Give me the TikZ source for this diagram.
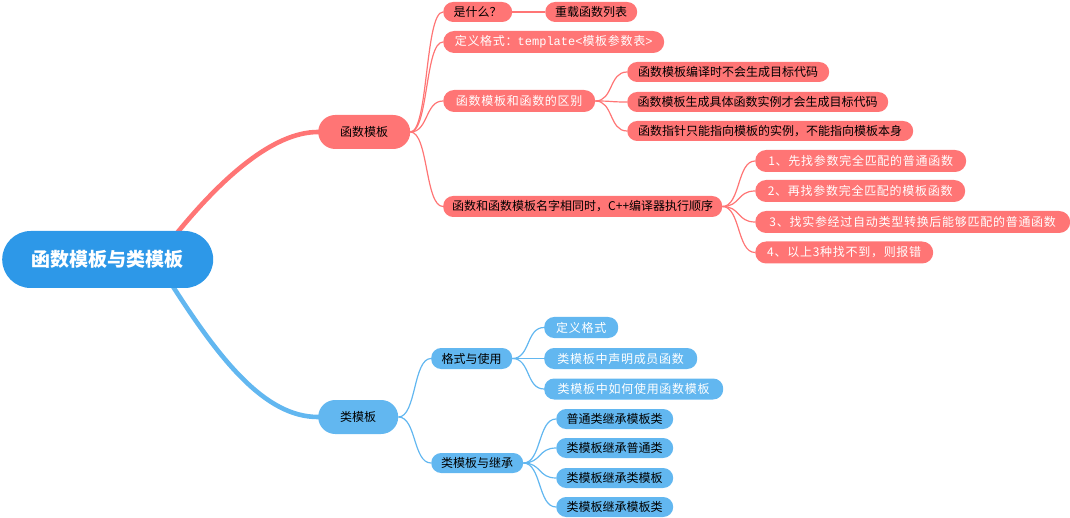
\documentclass[tikz,border=0pt]{standalone}
\usepackage{fontspec}
\setmainfont{Noto Sans CJK SC}
\newfontfamily\cjkw[LetterSpace=6]{Noto Sans CJK SC}
\newfontfamily\monof{Liberation Mono}
\usetikzlibrary{backgrounds}
\definecolor{rd}{HTML}{FF7575}
\definecolor{bl}{HTML}{62B7F0}
\definecolor{rootc}{HTML}{2D98E8}
\begin{document}
\begin{tikzpicture}[x=1pt,y=-1pt,
  box/.style={anchor=west, inner sep=0pt, minimum height=20pt, rounded corners=10pt, text=black, font=\fontsize{12pt}{14pt}\selectfont},
  rbox/.style={box, fill=rd},
  bbox/.style={box, fill=bl},
  wt/.style={text=white, font=\fontsize{12pt}{14pt}\cjkw},
  big/.style={minimum height=34pt, rounded corners=17pt},
  rl/.style={draw=rd, line width=1.2pt},
  bll/.style={draw=bl, line width=1.2pt},
  trunk/.style={line width=4.6pt, line cap=round},
]
\useasboundingbox (0,0) rectangle (1070,518);

% root
\node[anchor=west, fill=rootc, minimum width=211pt, minimum height=57pt, rounded corners=28.5pt, inner sep=0pt, text=white, font=\fontsize{19pt}{22pt}\selectfont\bfseries] (root) at (2,259.5) {函数模板与类模板};

% level 1
\node[rbox, big, minimum width=92pt] (fm) at (318,132) {函数模板};
\node[bbox, big, minimum width=80pt] (lm) at (318,417) {类模板};

% red branch
\node[rbox, minimum width=69pt] (q1) at (443,12) {是什么？};
\node[rbox, minimum width=92pt] (q1a) at (545,12) {重载函数列表};
\node[rbox, wt, minimum width=221pt, minimum height=22pt, rounded corners=11pt] (q2) at (443,42) {定义格式：{\monof template<}模板参数表{\monof >}};
\node[rbox, wt, minimum width=152pt, minimum height=22pt, rounded corners=11pt] (q3) at (443,101) {函数模板和函数的区别};
\node[rbox, minimum width=202pt] (c1) at (627,72) {函数模板编译时不会生成目标代码};
\node[rbox, minimum width=261pt] (c2) at (627,102) {函数模板生成具体函数实例才会生成目标代码};
\node[rbox, minimum width=286pt] (c3) at (627,131) {函数指针只能指向模板的实例，不能指向模板本身};
\node[rbox, minimum width=279pt, minimum height=21pt] (q4) at (443,206.5) {函数和函数模板名字相同时，C++编译器执行顺序};
\node[rbox, wt, minimum width=211pt, minimum height=22pt, rounded corners=11pt] (o1) at (755,161) {1、先找参数完全匹配的普通函数};
\node[rbox, wt, minimum width=210pt, minimum height=22pt, rounded corners=11pt] (o2) at (755,191) {2、再找参数完全匹配的模板函数};
\node[rbox, wt, minimum width=315pt, minimum height=22pt, rounded corners=11pt] (o3) at (755,222) {3、找实参经过自动类型转换后能够匹配的普通函数};
\node[rbox, wt, minimum width=178pt, minimum height=22pt, rounded corners=11pt] (o4) at (755,252.5) {4、以上3种找不到，则报错};

% blue branch
\node[bbox, minimum width=81pt, minimum height=21pt] (b1) at (431,358.5) {格式与使用};
\node[bbox, wt, minimum width=74pt, minimum height=21pt] (b1a) at (544,327.5) {定义格式};
\node[bbox, wt, minimum width=153pt, minimum height=21pt] (b1b) at (544,358.5) {类模板中声明成员函数};
\node[bbox, wt, minimum width=179pt, minimum height=21pt] (b1c) at (544,389) {类模板中如何使用函数模板};
\node[bbox, minimum width=92pt] (b2) at (431,463) {类模板与继承};
\node[bbox, minimum width=117pt] (b2a) at (556,419) {普通类继承模板类};
\node[bbox, minimum width=117pt] (b2b) at (556,448) {类模板继承普通类};
\node[bbox, minimum width=117pt] (b2c) at (556,478) {类模板继承类模板};
\node[bbox, minimum width=117pt] (b2d) at (556,507) {类模板继承模板类};

\coordinate (rt) at (177,233);
\coordinate (bt) at (172,285);

\begin{scope}[on background layer]
\draw[trunk, draw=rd] (rt) .. controls +(45,-55) and +(-45,0) .. (fm.west);
\draw[trunk, draw=bl] (bt) .. controls +(48,75) and +(-53,0) .. (lm.west);
\foreach \c in {q1,q2,q3,q4} \draw[rl] (fm.east) .. controls +(18,0) and +(-18,0) .. (\c.west);
\draw[rl] (q1.east) -- (q1a.west);
\foreach \c in {c1,c2,c3} \draw[rl] (q3.east) .. controls +(18,0) and +(-18,0) .. (\c.west);
\foreach \c in {o1,o2,o3,o4} \draw[rl] (q4.east) .. controls +(18,0) and +(-18,0) .. (\c.west);
\foreach \c in {b1,b2} \draw[bll] (lm.east) .. controls +(18,0) and +(-18,0) .. (\c.west);
\foreach \c in {b1a,b1b,b1c} \draw[bll] (b1.east) .. controls +(18,0) and +(-18,0) .. (\c.west);
\foreach \c in {b2a,b2b,b2c,b2d} \draw[bll] (b2.east) .. controls +(18,0) and +(-18,0) .. (\c.west);
\end{scope}
\end{tikzpicture}
\end{document}
